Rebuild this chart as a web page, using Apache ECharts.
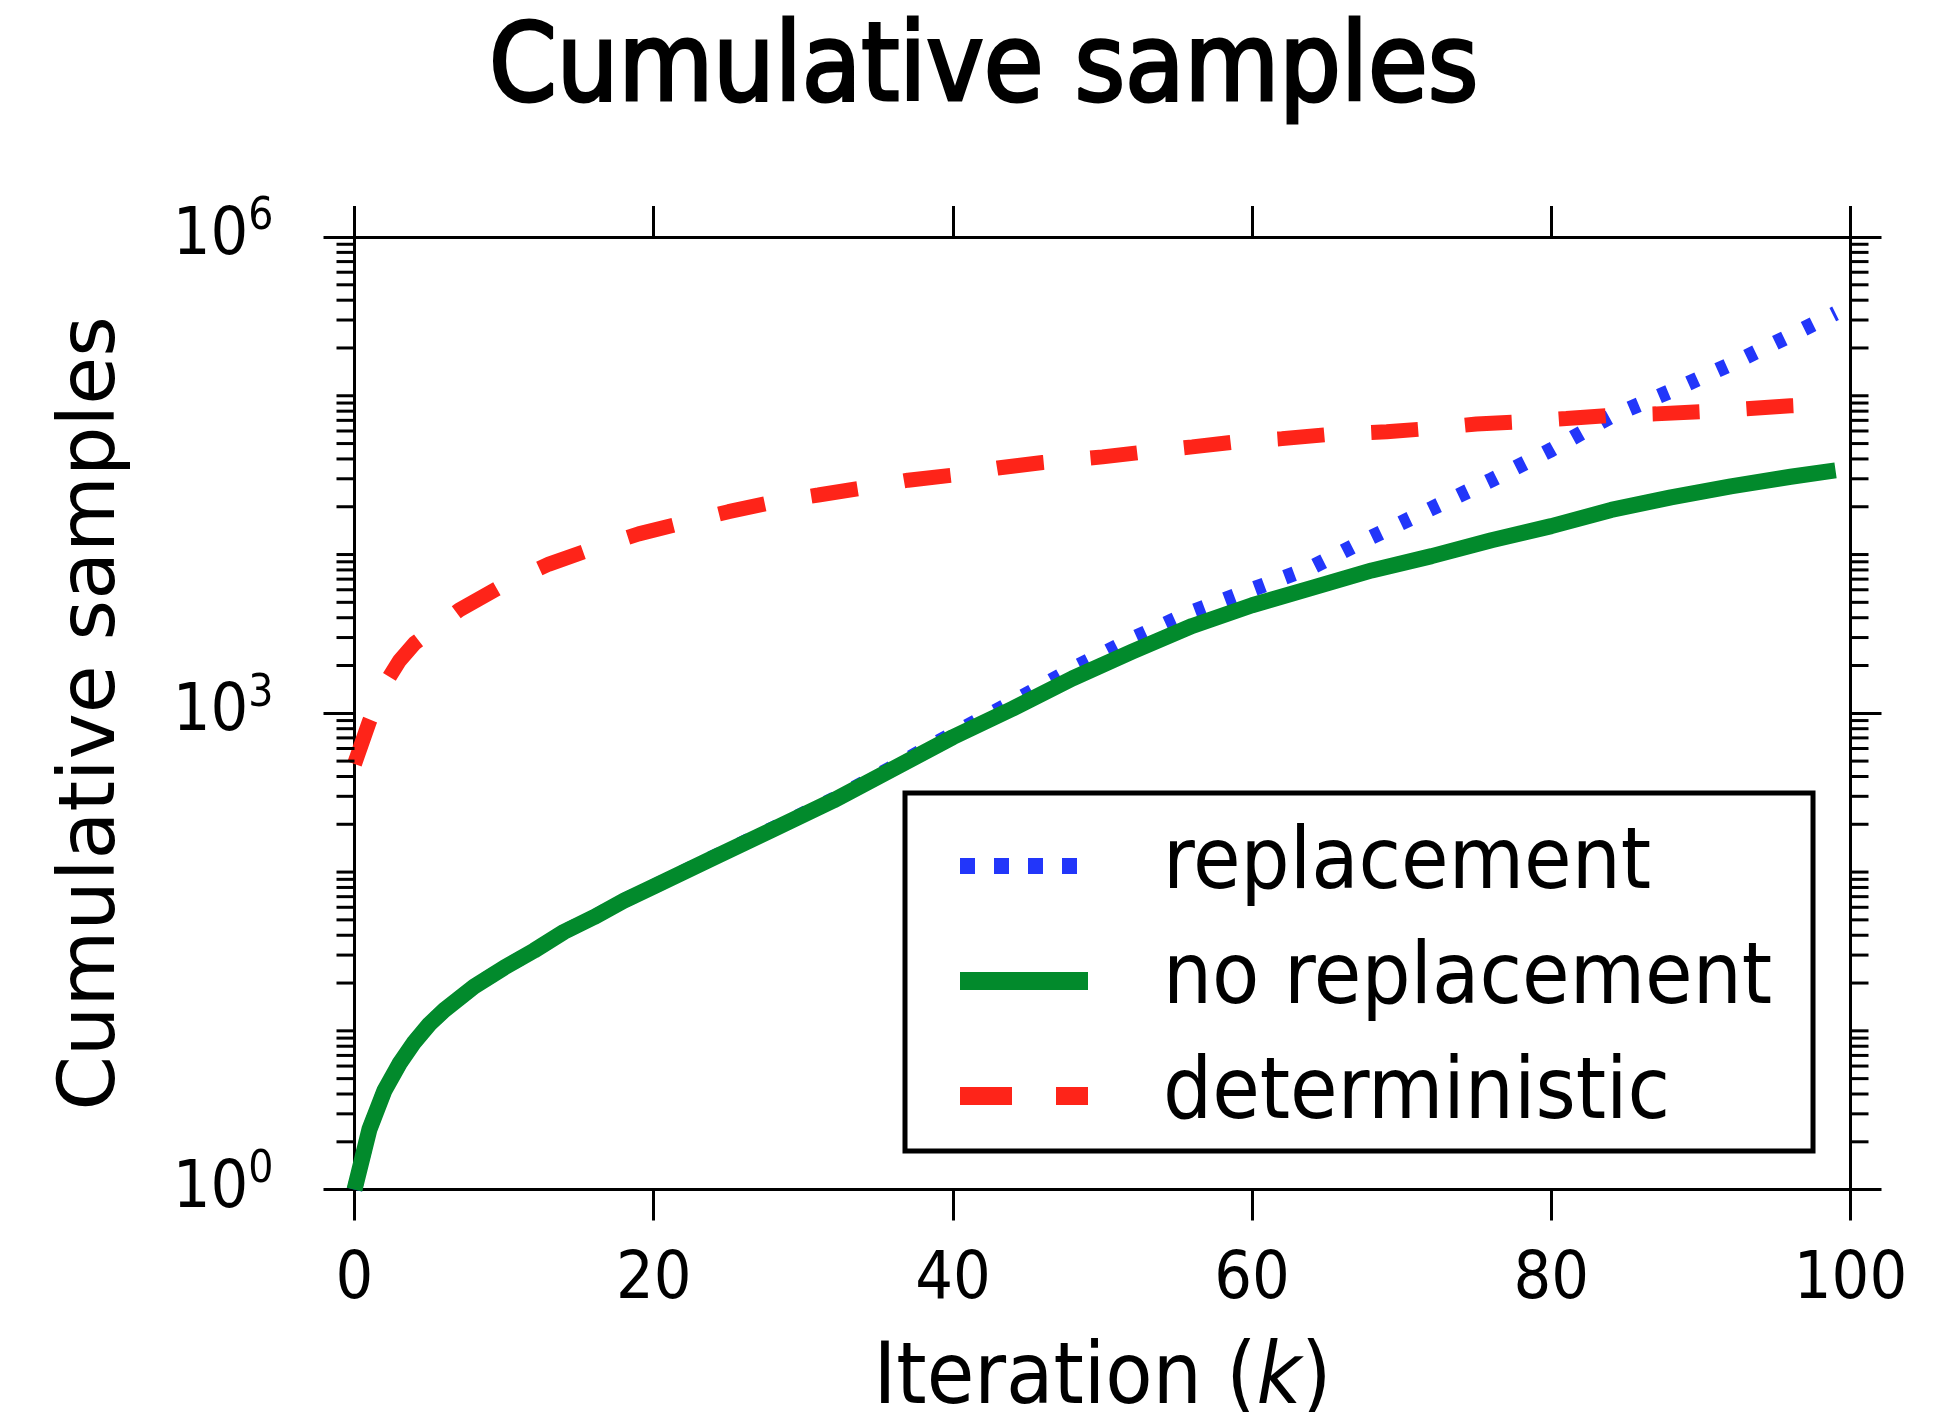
<!DOCTYPE html>
<html>
<head>
<meta charset="utf-8">
<script src="https://cdn.jsdelivr.net/npm/echarts@6/dist/echarts.min.js"></script>
<style>
  html, body { margin: 0; padding: 0; background: #fff; }
  #chart { width: 1937px; height: 1412px; }
</style>
</head>
<body>
<div id="chart"></div>
<script>
// iteration grid for the two sampled series
const iterations = [0, 1, 2, 3, 4, 5, 6, 8, 10, 12, 14, 16, 18, 20, 24, 28, 32, 36, 40,
  44, 48, 52, 56, 60, 64, 68, 72, 76, 80, 84, 88, 92, 96, 99];
const replacement = [1, 2.4, 4.2, 6.2, 8.5, 11, 13.5, 19, 25, 32, 42, 52, 66, 81, 124, 188,
  286, 457, 741, 1175, 1905, 2950, 4365, 6030, 8320, 12900, 19500, 29500, 45700, 74100,
  107000, 158000, 240000, 331000];
const noReplacement = [1, 2.4, 4.2, 6.2, 8.5, 11, 13.5, 19, 25, 32, 42, 52, 66, 81, 123, 186,
  282, 447, 708, 1070, 1660, 2450, 3550, 4790, 6170, 7940, 9770, 12300, 15100, 19100,
  22900, 26900, 30900, 33900];

// deterministic series has its own iteration grid
const detIterations = [0, 1, 2, 3, 4, 5, 7, 10, 13, 16, 19, 22, 25, 28, 31, 34, 37, 40, 43,
  46, 50, 53, 56, 59, 62, 65, 69, 72, 75, 78, 81, 84, 87, 90, 93, 96, 99];
const deterministic = [480, 890, 1510, 2140, 2750, 3240, 4470, 6460, 8710, 10960, 13490,
  15850, 18620, 21380, 23710, 26300, 29380, 31620, 35080, 38020, 41210, 44460, 47640,
  51290, 53700, 56890, 59290, 62370, 66370, 68710, 71940, 75340, 76910, 79430, 82790,
  86500, 89100];

const xTicks = [0, 20, 40, 60, 80, 100];
const minorSubs = [1, 2, 3, 4, 5, 6, 7, 8, 9];
const decades = [0, 1, 2, 3, 4, 5];
const majorDecades = [0, 3, 6];

const FONT_C = "'DejaVu Sans Condensed', 'DejaVu Sans', sans-serif";
const FONT = "'DejaVu Sans', sans-serif";
const BLUE = '#2236fa';
const GREEN = '#028a2c';
const RED = '#fe2419';

const minorTicks = [];
decades.forEach(e => {
  minorSubs.forEach(m => {
    if (m === 1 && majorDecades.includes(e)) return;
    minorTicks.push([0, m * Math.pow(10, e)]);
  });
});

const pairs = (xs, ys) => xs.map((x, i) => [x, ys[i]]);

const chart = echarts.init(document.getElementById('chart'), null, { renderer: 'canvas' });

const baseX = {
  type: 'value', min: 0, max: 100, interval: 20,
  axisLine: { onZero: false, lineStyle: { color: '#000', width: 3 } },
  axisTick: { length: 31, lineStyle: { color: '#000', width: 3 } },
  splitLine: { show: false }
};
const baseY = {
  type: 'log', logBase: 10, min: 1, max: 1e6, interval: 3,
  axisLine: { onZero: false, lineStyle: { color: '#000', width: 3 } },
  axisTick: { length: 31, lineStyle: { color: '#000', width: 3 } },
  splitLine: { show: false }
};

chart.setOption({
  backgroundColor: '#fff',
  animation: false,
  title: {
    text: 'Cumulative samples',
    left: 484,
    top: 13,
    textStyle: {
      fontFamily: FONT_C, fontSize: 108, fontWeight: 'normal', color: '#000',
      textBorderColor: '#000', textBorderWidth: 3
    }
  },
  grid: { left: 354.5, right: 86.5, top: 237, bottom: 222.4, outerBoundsMode: 'none', containLabel: false },
  legend: {
    orient: 'vertical',
    left: 905, top: 793,
    padding: [30, 41, 12, 46],
    itemWidth: 128, itemHeight: 20, itemGap: 29,
    backgroundColor: '#fff', borderColor: '#000', borderWidth: 5, borderRadius: 0,
    itemStyle: { opacity: 0 },
    textStyle: { fontFamily: FONT_C, fontSize: 86, color: '#000', padding: [0, 0, 0, 70] },
    data: [
      { name: 'replacement', itemStyle: { opacity: 0 }, lineStyle: { width: 16, type: [15, 19] } },
      { name: 'no replacement', itemStyle: { opacity: 0 }, lineStyle: { width: 18 } },
      { name: 'deterministic', itemStyle: { opacity: 0 }, lineStyle: { width: 18, type: [52, 44] } }
    ]
  },
  xAxis: [
    Object.assign({}, baseX, {
      position: 'bottom',
      axisLabel: { fontFamily: FONT_C, fontSize: 66, color: '#000', margin: 58 },
      name: 'Iteration ({i|k})',
      nameLocation: 'middle',
      nameGap: 148,
      nameTextStyle: {
        fontFamily: FONT_C, fontSize: 86, color: '#000',
        rich: { i: { fontFamily: FONT_C, fontStyle: 'italic', fontSize: 86, color: '#000' } }
      }
    }),
    Object.assign({}, baseX, { position: 'top', axisLabel: { show: false } })
  ],
  yAxis: [
    Object.assign({}, baseY, {
      position: 'left',
      axisLabel: {
        margin: 81,
        formatter: v => '{b|10}{s|' + Math.round(Math.log10(v)) + '}',
        rich: {
          b: { fontFamily: FONT_C, fontSize: 66, color: '#000' },
          s: { fontFamily: FONT_C, fontSize: 44, color: '#000', padding: [0, 0, 38, 0] }
        }
      },
      name: 'Cumulative samples',
      nameLocation: 'middle',
      nameGap: 222,
      nameTextStyle: { fontFamily: FONT, fontSize: 78, color: '#000' }
    }),
    Object.assign({}, baseY, { position: 'right', axisLabel: { show: false } })
  ],
  series: [
    {
      name: 'replacement', type: 'line', symbol: 'none',
      data: pairs(iterations, replacement), z: 2,
      lineStyle: { color: BLUE, width: 15, type: [10, 22], cap: 'butt' },
      itemStyle: { color: BLUE }
    },
    {
      name: 'no replacement', type: 'line', symbol: 'none',
      data: pairs(iterations, noReplacement), z: 3,
      lineStyle: { color: GREEN, width: 16, cap: 'butt', join: 'round' },
      itemStyle: { color: GREEN }
    },
    {
      name: 'deterministic', type: 'line', symbol: 'none',
      data: pairs(detIterations, deterministic), z: 4,
      lineStyle: { color: RED, width: 15, type: [47, 47], cap: 'butt' },
      itemStyle: { color: RED }
    },
    {
      // log minor ticks at 2..9 x 10^n on both vertical spines
      type: 'custom', silent: true, clip: false, z: 5,
      data: minorTicks,
      encode: { x: 0, y: 1 },
      renderItem: (params, api) => {
        const v = api.value(1);
        const l = api.coord([xTicks[0], v]);
        const r = api.coord([xTicks[xTicks.length - 1], v]);
        const st = { stroke: '#000', lineWidth: 3 };
        return {
          type: 'group',
          children: [
            { type: 'line', shape: { x1: l[0] - 18, y1: l[1], x2: l[0], y2: l[1] }, style: st },
            { type: 'line', shape: { x1: r[0], y1: r[1], x2: r[0] + 18, y2: r[1] }, style: st }
          ]
        };
      }
    }
  ]
});
</script>
</body>
</html>
